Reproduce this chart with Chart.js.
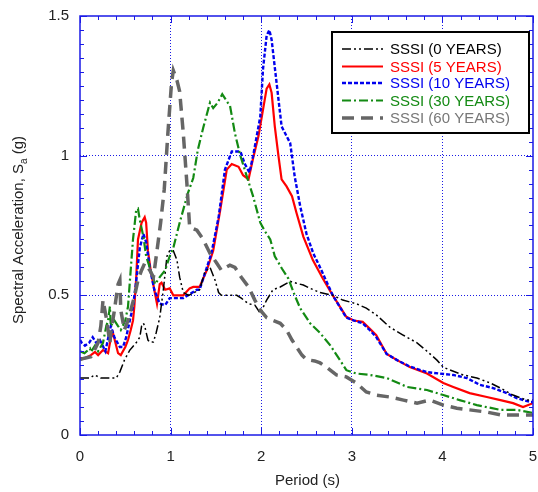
<!DOCTYPE html>
<html>
<head>
<meta charset="utf-8">
<script src="https://cdn.jsdelivr.net/npm/chart.js@4.4.1/dist/chart.umd.min.js"></script>
<style>
html,body{margin:0;padding:0;background:#fff;}
#wrap{width:538px;height:492px;}
</style>
</head>
<body>
<div id="wrap"><canvas id="c" width="538" height="492"></canvas></div>
<script>
// ---- Data (Period in s, Spectral acceleration in g) ----
const seriesLabels = ['SSSI (0 YEARS)', 'SSSI (5 YEARS)', 'SSSI (10 YEARS)', 'SSSI (30 YEARS)', 'SSSI (60 YEARS)'];
const xTicks = [0, 1, 2, 3, 4, 5];
const yTicks = [0, 0.5, 1, 1.5];

const p0 = [0,0.11,0.16,0.23,0.31,0.40,0.44,0.49,0.55,0.58,0.62,0.66,0.68,0.70,0.714,0.75,0.77,0.81,0.84,0.88,0.92,0.96,0.99,1.03,1.07,1.10,1.14,1.2,1.32,1.38,1.435,1.49,1.53,1.56,1.73,1.78,1.86,1.93,1.99,2.06,2.13,2.21,2.32,2.39,2.465,2.54,2.65,2.79,2.90,3.05,3.16,3.27,3.42,3.57,3.72,3.83,3.94,4.01,4.08,4.23,4.38,4.53,4.64,4.78,4.93,5.0];
const s0 = [0.204,0.204,0.215,0.204,0.204,0.204,0.226,0.268,0.304,0.315,0.33,0.35,0.39,0.40,0.39,0.34,0.333,0.333,0.365,0.42,0.52,0.64,0.66,0.66,0.626,0.565,0.51,0.50,0.52,0.585,0.60,0.555,0.51,0.50,0.50,0.49,0.47,0.465,0.436,0.483,0.52,0.53,0.55,0.543,0.537,0.525,0.51,0.50,0.483,0.47,0.454,0.43,0.386,0.357,0.33,0.30,0.268,0.243,0.233,0.215,0.204,0.186,0.168,0.143,0.125,0.125];

const p5 = [0,0.055,0.12,0.165,0.2,0.254,0.31,0.34,0.364,0.42,0.45,0.5,0.53,0.56,0.585,0.60,0.62,0.64,0.68,0.714,0.73,0.75,0.78,0.82,0.85,0.88,0.90,0.94,0.99,1.03,1.14,1.21,1.25,1.32,1.40,1.47,1.545,1.62,1.675,1.75,1.80,1.86,1.91,1.97,2.02,2.06,2.09,2.115,2.15,2.19,2.225,2.28,2.34,2.39,2.465,2.54,2.57,2.68,2.79,2.94,3.02,3.12,3.2,3.27,3.385,3.5,3.64,3.83,4.01,4.12,4.30,4.49,4.64,4.78,4.89,5.0];
const s5 = [0.275,0.275,0.286,0.297,0.286,0.304,0.293,0.347,0.365,0.293,0.286,0.315,0.34,0.376,0.41,0.46,0.56,0.70,0.76,0.78,0.76,0.66,0.59,0.52,0.47,0.54,0.545,0.52,0.525,0.50,0.50,0.525,0.53,0.53,0.59,0.66,0.80,0.95,0.97,0.96,0.93,0.915,0.99,1.07,1.165,1.24,1.255,1.225,1.105,1.0,0.915,0.89,0.855,0.795,0.71,0.65,0.626,0.56,0.50,0.423,0.41,0.405,0.38,0.357,0.29,0.268,0.243,0.22,0.186,0.172,0.15,0.136,0.125,0.114,0.10,0.114];

const p10 = [0,0.02,0.055,0.1,0.14,0.18,0.22,0.28,0.34,0.38,0.44,0.475,0.51,0.55,0.585,0.62,0.66,0.70,0.73,0.77,0.82,0.88,0.94,0.99,1.14,1.29,1.32,1.40,1.45,1.53,1.60,1.675,1.77,1.82,1.87,1.91,1.99,2.02,2.06,2.09,2.115,2.17,2.225,2.28,2.32,2.37,2.43,2.50,2.575,2.65,2.79,2.94,3.02,3.12,3.2,3.27,3.385,3.5,3.64,3.83,3.97,4.12,4.27,4.41,4.56,4.71,4.82,4.97,5.0];
const s10 = [0.34,0.33,0.32,0.33,0.35,0.33,0.34,0.30,0.39,0.35,0.315,0.315,0.35,0.41,0.46,0.55,0.67,0.72,0.69,0.60,0.52,0.47,0.465,0.49,0.49,0.52,0.52,0.60,0.65,0.78,0.95,1.015,1.015,0.97,0.94,0.998,1.14,1.31,1.43,1.45,1.415,1.26,1.105,1.07,1.045,0.925,0.82,0.72,0.65,0.60,0.50,0.42,0.41,0.40,0.375,0.35,0.29,0.268,0.245,0.225,0.22,0.215,0.204,0.18,0.168,0.15,0.132,0.118,0.118];

const p30 = [0,0.05,0.11,0.12,0.165,0.2,0.254,0.29,0.31,0.33,0.34,0.38,0.42,0.45,0.50,0.53,0.555,0.585,0.62,0.64,0.66,0.70,0.73,0.77,0.83,0.88,0.94,0.99,1.03,1.10,1.19,1.25,1.30,1.36,1.435,1.47,1.52,1.57,1.63,1.655,1.71,1.77,1.84,1.91,1.99,2.04,2.10,2.15,2.23,2.30,2.37,2.43,2.54,2.65,2.76,2.87,2.94,3.05,3.2,3.385,3.61,3.83,4.01,4.19,4.38,4.64,4.82,5.0];
const s30 = [0.30,0.293,0.31,0.297,0.32,0.30,0.33,0.39,0.41,0.46,0.39,0.41,0.39,0.376,0.41,0.46,0.57,0.70,0.805,0.81,0.77,0.71,0.64,0.60,0.54,0.565,0.59,0.64,0.67,0.76,0.865,0.92,1.02,1.10,1.19,1.17,1.19,1.22,1.19,1.18,1.08,1.0,0.927,0.855,0.76,0.73,0.70,0.64,0.595,0.56,0.50,0.454,0.40,0.365,0.322,0.268,0.232,0.22,0.215,0.204,0.172,0.161,0.143,0.125,0.107,0.09,0.09,0.079];

const p60 = [0,0.05,0.12,0.16,0.2,0.23,0.254,0.29,0.33,0.34,0.38,0.42,0.44,0.45,0.49,0.53,0.56,0.60,0.64,0.68,0.714,0.77,0.81,0.85,0.89,0.93,0.97,1.01,1.03,1.07,1.10,1.14,1.18,1.21,1.29,1.36,1.435,1.51,1.56,1.655,1.71,1.78,1.86,1.93,1.99,2.06,2.13,2.21,2.28,2.34,2.39,2.45,2.50,2.59,2.65,2.72,2.83,2.94,3.05,3.16,3.27,3.42,3.57,3.72,3.86,4.01,4.16,4.30,4.49,4.64,4.78,5.0];
const s60 = [0.27,0.275,0.28,0.304,0.33,0.39,0.483,0.42,0.33,0.365,0.447,0.54,0.555,0.447,0.376,0.41,0.447,0.494,0.555,0.59,0.615,0.59,0.565,0.66,0.76,0.88,1.08,1.26,1.305,1.27,1.23,1.08,0.90,0.745,0.733,0.70,0.65,0.615,0.59,0.608,0.60,0.565,0.53,0.483,0.447,0.42,0.41,0.40,0.376,0.34,0.315,0.286,0.27,0.265,0.258,0.243,0.215,0.208,0.186,0.154,0.143,0.136,0.125,0.114,0.125,0.107,0.096,0.09,0.082,0.072,0.072,0.072];

const FONT = '"Liberation Sans", Arial, Helvetica, sans-serif';
const AXIS_BLUE = '#1a1ae6';

function pts(xs, ys){ return xs.map((x,i)=>({x:x, y:ys[i]})); }

const styles = [
  {color:'#000000', width:1.5, dash:[9,3,2,3,2,3], text:'#000000'},
  {color:'#ff0000', width:2.2, dash:[], text:'#ff0000'},
  {color:'#0000ee', width:2.4, dash:[4,2], text:'#0000ee'},
  {color:'#138a13', width:2.2, dash:[9,3,2,3], text:'#138a13'},
  {color:'#666666', width:3.5, dash:[12,7], text:'#777777'}
];
const allP = [p0,p5,p10,p30,p60];
const allS = [s0,s5,s10,s30,s60];

const datasets = seriesLabels.map((lab,i)=>({
  label: lab,
  data: pts(allP[i], allS[i]),
  borderColor: styles[i].color,
  borderWidth: styles[i].width,
  borderDash: styles[i].dash,
  pointRadius: 0,
  showLine: true,
  fill: false,
  tension: 0
}));
// draw order: gray at back
const ordered = [datasets[4], datasets[3], datasets[0], datasets[2], datasets[1]];

const framePlugin = {
  id: 'frame',
  afterDraw(chart){
    const ctx = chart.ctx, a = chart.chartArea;
    const xs = chart.scales.x, ys = chart.scales.y;
    ctx.save();
    ctx.strokeStyle = AXIS_BLUE;
    ctx.lineWidth = 1.5;
    ctx.setLineDash([]);
    ctx.strokeRect(a.left, a.top, a.right - a.left, a.bottom - a.top);
    ctx.lineWidth = 1;
    ctx.beginPath();
    for (let v = 0; v <= 5.0001; v += 0.2) {
      const px = Math.round(xs.getPixelForValue(v)) + 0.5;
      const major = Math.abs(v - Math.round(v)) < 1e-6;
      const L = major ? 7 : 4;
      ctx.moveTo(px, a.bottom); ctx.lineTo(px, a.bottom - L);
      ctx.moveTo(px, a.top); ctx.lineTo(px, a.top + L);
    }
    for (let v = 0; v <= 1.5001; v += 0.05) {
      const py = Math.round(ys.getPixelForValue(v)) + 0.5;
      const major = Math.abs(v*2 - Math.round(v*2)) < 1e-6;
      const L = major ? 7 : 4;
      ctx.moveTo(a.left, py); ctx.lineTo(a.left + L, py);
      ctx.moveTo(a.right, py); ctx.lineTo(a.right - L, py);
    }
    ctx.stroke();

    // tick labels
    ctx.fillStyle = '#222';
    ctx.font = '15px ' + FONT;
    ctx.textAlign = 'center';
    ctx.textBaseline = 'middle';
    xTicks.forEach(v => ctx.fillText(String(v), xs.getPixelForValue(v), 457));
    ctx.textAlign = 'right';
    yTicks.forEach(v => ctx.fillText(String(v), 69, ys.getPixelForValue(v)));

    // axis titles
    ctx.textAlign = 'center';
    ctx.fillText('Period (s)', (a.left + a.right)/2 + 1, 481);

    ctx.save();
    ctx.translate(19, 230);
    ctx.rotate(-Math.PI/2);
    const t1 = 'Spectral Acceleration, S', t2 = 'a', t3 = ' (g)';
    ctx.font = '15px ' + FONT;
    const w1 = ctx.measureText(t1).width, w3 = ctx.measureText(t3).width;
    ctx.font = '10px ' + FONT;
    const w2 = ctx.measureText(t2).width;
    const tot = w1 + w2 + w3;
    let x0 = -tot/2;
    ctx.textAlign = 'left';
    ctx.font = '15px ' + FONT;
    ctx.fillText(t1, x0, 0);
    ctx.font = '10px ' + FONT;
    ctx.fillText(t2, x0 + w1, 5);
    ctx.font = '15px ' + FONT;
    ctx.fillText(t3, x0 + w1 + w2, 0);
    ctx.restore();

    // legend
    const bx = 332, by = 32, bw = 197, bh = 101;
    ctx.fillStyle = '#fff';
    ctx.fillRect(bx, by, bw, bh);
    ctx.strokeStyle = '#000';
    ctx.lineWidth = 2;
    ctx.strokeRect(bx, by, bw, bh);
    const rows = [49, 66.5, 83, 100.5, 118];
    seriesLabels.forEach((lab, i) => {
      const st = styles[i];
      ctx.strokeStyle = st.color;
      ctx.lineWidth = st.width;
      ctx.setLineDash(st.dash);
      ctx.beginPath();
      ctx.moveTo(342, rows[i]); ctx.lineTo(383, rows[i]);
      ctx.stroke();
      ctx.setLineDash([]);
      ctx.fillStyle = st.text;
      ctx.font = '15px ' + FONT;
      ctx.textAlign = 'left';
      ctx.textBaseline = 'middle';
      ctx.fillText(lab, 390, rows[i] + 1);
    });
    ctx.restore();
  }
};

new Chart(document.getElementById('c'), {
  type: 'scatter',
  data: { datasets: ordered },
  options: {
    responsive: false,
    animation: false,
    devicePixelRatio: 1,
    layout: { padding: { left: 0, right: 5, top: 16, bottom: 0 } },
    plugins: { legend: { display: false }, tooltip: { enabled: false } },
    scales: {
      x: {
        type: 'linear', min: 0, max: 5,
        afterBuildTicks: s => { s.ticks = xTicks.map(v => ({value: v})); },
        afterFit: s => { s.height = 57; s.paddingLeft = 0; s.paddingRight = 0; },
        ticks: { display: false },
        grid: { color: ctx => (ctx.tick && (ctx.tick.value === 0 || ctx.tick.value === 5)) ? 'rgba(0,0,0,0)' : AXIS_BLUE, lineWidth: 1, drawTicks: false },
        border: { display: false, dash: [1, 2] },
        title: { display: false }
      },
      y: {
        type: 'linear', min: 0, max: 1.5,
        afterBuildTicks: s => { s.ticks = yTicks.map(v => ({value: v})); },
        afterFit: s => { s.width = 80; s.paddingTop = 0; s.paddingBottom = 0; },
        ticks: { display: false },
        grid: { color: ctx => (ctx.tick && (ctx.tick.value === 0 || ctx.tick.value === 1.5)) ? 'rgba(0,0,0,0)' : AXIS_BLUE, lineWidth: 1, drawTicks: false },
        border: { display: false, dash: [1, 2] },
        title: { display: false }
      }
    }
  },
  plugins: [framePlugin]
});
</script>
</body>
</html>
